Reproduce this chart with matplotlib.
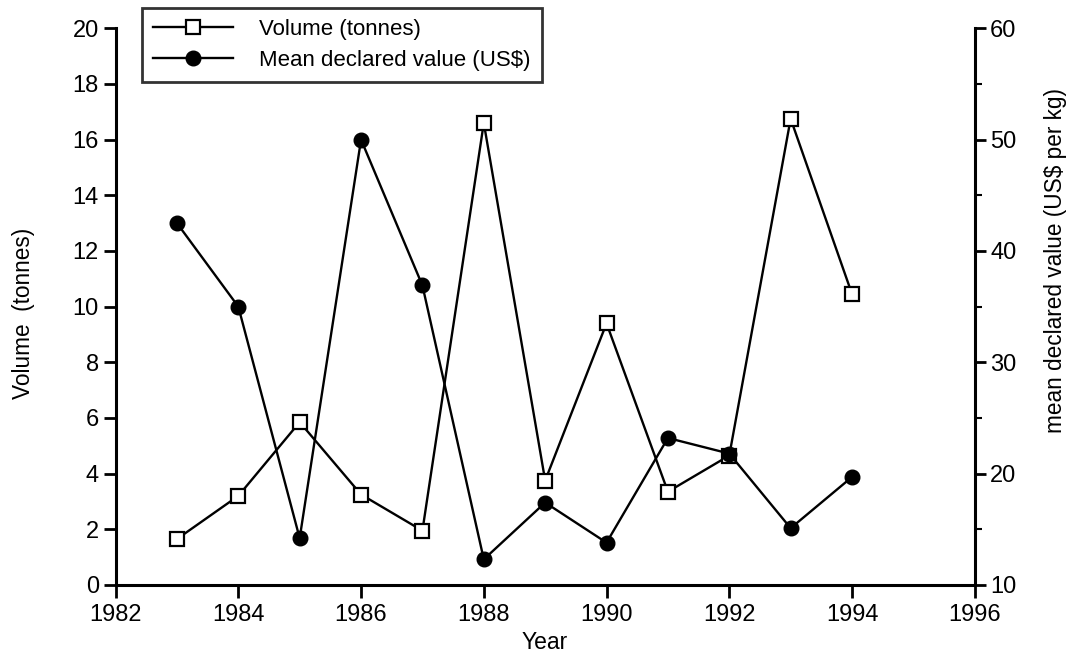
import numpy as np
import matplotlib
matplotlib.use("Agg")
import matplotlib.pyplot as plt
from matplotlib.ticker import MultipleLocator

plt.rcParams['font.family'] = ['Liberation Sans', 'DejaVu Sans']

# data
years = [1983, 1984, 1985, 1986, 1987, 1988, 1989, 1990, 1991, 1992, 1993, 1994]
volume = [1.65, 3.2, 5.85, 3.25, 1.95, 16.6, 3.75, 9.4, 3.35, 4.65, 16.75, 10.45]
mean_value = [42.5, 35.0, 14.2, 50.0, 36.9, 12.3, 17.4, 13.8, 23.2, 21.8, 15.1, 19.7]

fig = plt.figure(figsize=(10.7, 6.58), dpi=100)
ax = fig.add_axes([0.108, 0.111, 0.803, 0.846])
ax2 = ax.twinx()

l1, = ax.plot(years, volume, color='black', lw=1.7, marker='s', ms=9.5,
              mfc='white', mec='black', mew=1.6, label='Volume (tonnes)')
l2, = ax2.plot(years, mean_value, color='black', lw=1.7, marker='o', ms=10.5,
               mfc='black', mec='black', label='Mean declared value (US$)')

ax.set_xlim(1982, 1996)
ax.set_ylim(0, 20)
ax2.set_ylim(10, 60)
ax.xaxis.set_major_locator(MultipleLocator(2))
ax.yaxis.set_major_locator(MultipleLocator(2))
ax2.yaxis.set_major_locator(MultipleLocator(10))
ax2.yaxis.set_minor_locator(MultipleLocator(5))

for a in (ax, ax2):
    a.spines['top'].set_visible(False)
    for s in a.spines.values():
        s.set_linewidth(2.2)
ax.spines['right'].set_visible(False)
ax2.spines['left'].set_visible(False)
ax2.spines['bottom'].set_visible(False)

ax.tick_params(axis='y', which='major', direction='out', length=9, width=2,
               labelsize=17, pad=3)
ax.tick_params(axis='x', which='major', direction='out', length=9, width=2,
               labelsize=17, pad=5)
ax2.tick_params(axis='y', which='major', direction='out', length=8, width=2,
                labelsize=17, pad=3)
ax2.tick_params(axis='y', which='minor', direction='out', length=5, width=1.5)

ax.set_xlabel('Year', fontsize=16.5, labelpad=3)
ax.set_ylabel('Volume  (tonnes)', fontsize=16.3)
ax2.set_ylabel('mean declared value (US$ per kg)', fontsize=16.3)
ax.yaxis.set_label_coords(-0.094, 0.488)
ax2.yaxis.set_label_coords(1.080, 0.583)

leg = fig.legend(handles=[l1, l2], loc='upper left',
                 bbox_to_anchor=(0.133, 0.988), borderaxespad=0,
                 fontsize=16, handlelength=3.6,
                 frameon=True, fancybox=False, edgecolor='black',
                 borderpad=0.5, labelspacing=0.45, handletextpad=1.15)
leg.get_frame().set_linewidth(2)

fig.savefig('out.png', dpi=100, facecolor='white')
